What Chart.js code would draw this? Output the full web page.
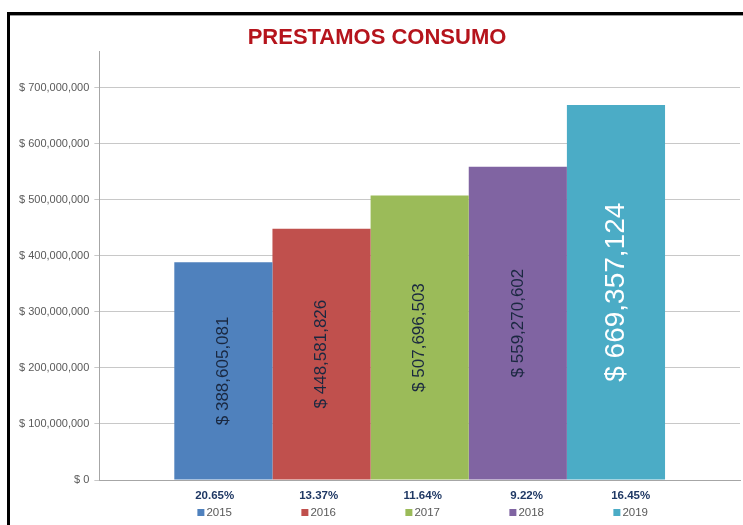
<!DOCTYPE html>
<html>
<head>
<meta charset="utf-8">
<script src="https://cdn.jsdelivr.net/npm/chart.js@4"></script>
<style>
    html, body { margin: 0; padding: 0; background: #fff; }
    #marco {
        position: absolute; left: 7px; top: 12px; width: 740px; height: 520px;
        border-top: 3px solid #000; border-left: 3px solid #000;
        box-shadow: inset 0 1px 0 #9a9a9a;
    }
    #caja { position: absolute; left: 0; top: 0; width: 743px; height: 525px; }
</style>
</head>
<body>
<div id="marco"></div>
<div id="caja"><canvas id="graficoPrestamos" width="743" height="525"></canvas></div>
<script>
// Datos del gráfico
const anios = ['2015', '2016', '2017', '2018', '2019'];
const montos = [388605081, 448581826, 507696503, 559270602, 669357124];
const crecimientos = ['20.65%', '13.37%', '11.64%', '9.22%', '16.45%'];
const colores = ['#4F81BD', '#C0504D', '#9BBB59', '#8064A2', '#4BACC6'];
const pasoEje = 100000000;

const fuente = "'Liberation Sans', Arial, sans-serif";

function formatoPesos(v) {
    return '$ ' + Math.round(Number(v)).toLocaleString('en-US');
}

// Etiquetas verticales dentro de cada barra
const etiquetasBarras = {
    id: 'etiquetasBarras',
    afterDatasetsDraw(chart) {
        const ctx = chart.ctx;
        chart.data.datasets.forEach((ds, i) => {
            const barra = chart.getDatasetMeta(i).data[0];
            const ultimo = i === chart.data.datasets.length - 1;
            ctx.save();
            ctx.translate(barra.x, (barra.y + barra.base) / 2);
            ctx.rotate(-Math.PI / 2);
            ctx.font = (ultimo ? '28px ' : '17px ') + fuente;
            ctx.fillStyle = ultimo ? '#ffffff' : '#1a2840';
            ctx.textAlign = 'center';
            ctx.textBaseline = 'middle';
            ctx.fillText(formatoPesos(ds.data[0]), 0, 0);
            ctx.restore();
        });
    }
};

// Leyenda inferior con el porcentaje de crecimiento encima de cada año
const leyendaInferior = {
    id: 'leyendaInferior',
    afterDraw(chart) {
        const ctx = chart.ctx;
        const area = chart.chartArea;
        const centro = (area.left + area.right) / 2 + 3;
        const paso = 104;
        ctx.save();
        ctx.textBaseline = 'middle';
        anios.forEach((anio, i) => {
            const x = centro + (i - 2) * paso;
            ctx.font = 'bold 11.5px ' + fuente;
            ctx.fillStyle = '#1f3864';
            ctx.textAlign = 'center';
            ctx.fillText(crecimientos[i], x, area.bottom + 16);

            ctx.font = '11.5px ' + fuente;
            const ancho = ctx.measureText(anio).width;
            const inicio = x - (ancho + 9) / 2;
            ctx.fillStyle = colores[i];
            ctx.fillRect(inicio, area.bottom + 29, 7, 7);
            ctx.fillStyle = '#595959';
            ctx.textAlign = 'left';
            ctx.fillText(anio, inicio + 9, area.bottom + 33);
        });
        ctx.restore();
    }
};

const config = {
    type: 'bar',
    data: {
        labels: [''],
        datasets: anios.map((anio, i) => ({
            label: anio,
            data: [montos[i]],
            backgroundColor: colores[i],
            borderWidth: 0
        }))
    },
    options: {
        responsive: false,
        animation: false,
        categoryPercentage: 0.766,
        barPercentage: 1.0,
        layout: {
            padding: { left: 14, right: 3, bottom: 37, top: 0 }
        },
        plugins: {
            legend: { display: false },
            tooltip: { enabled: false },
            title: {
                display: true,
                text: 'PRESTAMOS CONSUMO',
                color: '#b5141c',
                font: { family: fuente, size: 22, weight: 'bold' },
                padding: { top: 25, bottom: 0 }
            }
        },
        scales: {
            x: {
                grid: { display: false },
                border: { display: true, color: '#a6a6a6', width: 1 },
                ticks: { display: false }
            },
            y: {
                min: 0,
                max: 765000000,
                afterBuildTicks(eje) {
                    // solo marcas cada 100 millones (la escala llega un poco más arriba)
                    const lista = [];
                    for (let v = 0; v <= eje.max; v += pasoEje) lista.push({ value: v });
                    eje.ticks = lista;
                },
                grid: { color: '#c8c8c8', tickLength: 5 },
                border: { display: true, color: '#a6a6a6', width: 1 },
                ticks: {
                    padding: 5,
                    color: '#595959',
                    font: { family: fuente, size: 11 },
                    callback: v => formatoPesos(v)
                }
            }
        }
    },
    plugins: [etiquetasBarras, leyendaInferior]
};

new Chart(document.getElementById('graficoPrestamos').getContext('2d'), config);
</script>
</body>
</html>
